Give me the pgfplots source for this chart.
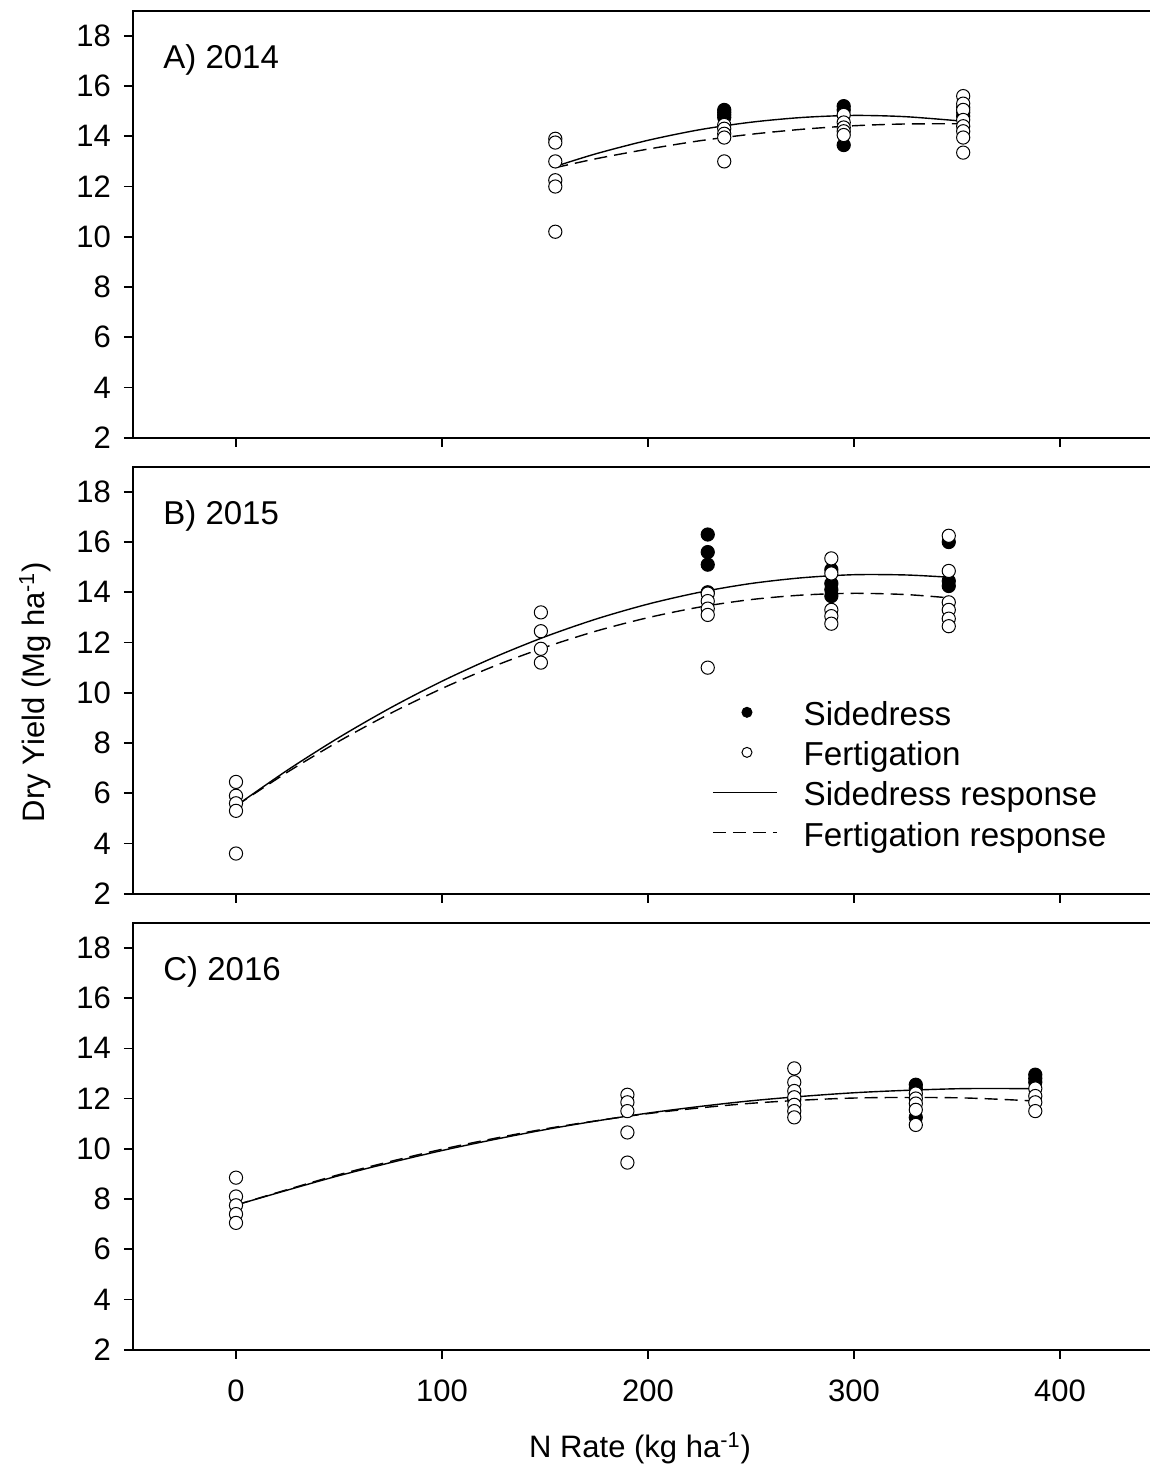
\documentclass[border=0pt]{standalone}
\usepackage{fontspec}
\setmainfont{Liberation Sans}
\usepackage{pgfplots}
\pgfplotsset{compat=1.18}
\tikzset{plabel/.style={anchor=base west, inner sep=0pt, xshift=15pt, yshift=-29pt, font=\fontsize{16.5}{19}\selectfont}}
\begin{document}
\begin{tikzpicture}
\useasboundingbox (0,0) rectangle (575pt,-735.5pt);
\pgfplotsset{
  panel/.style={
    scale only axis, width=515pt, height=213.5pt,
    xmin=-50, xmax=450, ymin=2, ymax=19,
    axis line style={line width=0.9pt},
    xtick={0,100,200,300,400},
    ytick={2,4,6,8,10,12,14,16,18},
    tick align=outside, tick pos=left,
    major tick length=4.5pt,
    tick style={line width=0.8pt, black},
    /pgf/number format/assume math mode=true,
    tick label style={font=\fontsize{15.5}{18}\selectfont},
    yticklabel style={xshift=-3pt},
    xticklabel style={yshift=-7pt},
    clip=false,
  },
  side/.style={only marks, mark=*, mark size=3.3pt,
    mark options={fill=black, draw=black, line width=0.5pt},
    legend image code/.code={\draw[mark repeat=2,mark phase=2,##1] plot coordinates {(0pt,1.5pt) (17pt,1.5pt) (34pt,1.5pt)};}},
  fert/.style={only marks, mark=*, mark size=3.3pt,
    mark options={fill=white, draw=black, line width=0.5pt},
    legend image code/.code={\draw[mark repeat=2,mark phase=2,##1] plot coordinates {(0pt,1.5pt) (17pt,1.5pt) (34pt,1.5pt)};}},
  sresp/.style={black, line width=0.7pt, smooth, no marks,
    legend image code/.code={\draw[##1] (0pt,1.5pt) -- (32pt,1.5pt);}},
  fresp/.style={black, line width=0.7pt, smooth, no marks, dash pattern=on 6.5pt off 3.5pt,
    legend image code/.code={\draw[##1] (0pt,1.5pt) -- (32pt,1.5pt);}},
}
% ---------------- Panel A: 2014
\begin{axis}[panel, at={(66.5pt,-5.35pt)}, anchor=north west, xticklabels={}]
\addplot[side] coordinates {(237,15.05) (237,14.95) (237,14.85) (237,14.75) (295,15.2) (295,15.05) (295,13.65) (353,15.15) (353,14.95) (353,14.8)};
\addplot[fert] coordinates {(155,13.9) (155,13.75) (155,13.0) (155,12.25) (155,12.0) (155,10.2)
 (237,14.45) (237,14.3) (237,14.1) (237,13.95) (237,13.0)
 (295,14.85) (295,14.55) (295,14.35) (295,14.2) (295,14.05)
 (353,15.6) (353,15.3) (353,15.05) (353,14.65) (353,14.4) (353,14.2) (353,13.95) (353,13.35)};
\addplot[sresp] coordinates {(155,12.8) (175,13.31) (200,13.84) (225,14.26) (250,14.56) (275,14.75) (300,14.83) (325,14.78) (353,14.6)};
\addplot[fresp] coordinates {(155,12.75) (175,13.11) (200,13.49) (225,13.82) (250,14.08) (275,14.28) (300,14.42) (325,14.49) (353,14.5)};
\node[plabel] at (rel axis cs:0,1) {A) 2014};
\end{axis}
% ---------------- Panel B: 2015
\begin{axis}[panel, at={(66.5pt,-233.35pt)}, anchor=north west, xticklabels={},
  legend style={at={(axis cs:231,6.71)}, anchor=west, draw=none, fill=none, inner sep=0pt,
    font=\fontsize{16.6}{19}\selectfont, row sep=6.5pt, column sep=13pt,
    nodes={inner sep=0pt}},
  legend cell align=left,
  legend image post style={mark size=2.5pt}]
\addplot[side] coordinates {(229,16.3) (229,15.6) (229,15.1) (229,14.0) (289,14.9) (289,14.35) (289,14.1) (289,13.85) (346,16.0) (346,14.45) (346,14.25)};
\addplot[fert] coordinates {(0,6.45) (0,5.9) (0,5.6) (0,5.3) (0,3.6)
 (148,13.2) (148,12.45) (148,11.75) (148,11.2)
 (229,13.95) (229,13.65) (229,13.35) (229,13.1) (229,11.0)
 (289,15.35) (289,14.75) (289,13.3) (289,13.05) (289,12.75)
 (346,16.25) (346,14.85) (346,13.6) (346,13.3) (346,12.95) (346,12.65)};
\addplot[sresp] coordinates {(0,5.5) (25,6.92) (50,8.22) (75,9.40) (100,10.46) (125,11.40) (150,12.23) (175,12.94) (200,13.53) (225,14.00) (250,14.35) (275,14.58) (300,14.70) (325,14.69) (346,14.6)};
\addplot[fresp] coordinates {(0,5.5) (25,6.84) (50,8.07) (75,9.18) (100,10.17) (125,11.05) (150,11.81) (175,12.46) (200,12.99) (225,13.41) (250,13.71) (275,13.89) (300,13.96) (325,13.91) (346,13.78)};
\legend{Sidedress, Fertigation, Sidedress response, Fertigation response}
\node[plabel] at (rel axis cs:0,1) {B) 2015};
\end{axis}
% ---------------- Panel C: 2016
\begin{axis}[panel, at={(66.5pt,-461.35pt)}, anchor=north west]
\addplot[side] coordinates {(271,11.95) (330,12.55) (330,12.4) (330,11.25) (388,12.95) (388,12.8) (388,12.65)};
\addplot[fert] coordinates {(0,8.85) (0,8.1) (0,7.75) (0,7.4) (0,7.05)
 (190,12.15) (190,11.85) (190,11.5) (190,10.65) (190,9.45)
 (271,13.2) (271,12.65) (271,12.3) (271,12.05) (271,11.75) (271,11.5) (271,11.25)
 (330,12.2) (330,12.0) (330,11.8) (330,11.55) (330,10.95)
 (388,12.4) (388,12.1) (388,11.85) (388,11.5)};
\addplot[sresp] coordinates {(0,7.76) (50,8.93) (100,9.93) (150,10.76) (200,11.42) (250,11.91) (300,12.23) (350,12.39) (388,12.39)};
\addplot[fresp] coordinates {(0,7.76) (50,8.97) (100,9.98) (150,10.79) (200,11.40) (250,11.81) (300,12.02) (350,12.03) (388,11.90)};
\node[plabel] at (rel axis cs:0,1) {C) 2016};
\end{axis}
\node[font=\fontsize{15.5}{18}\selectfont] at (320pt,-724pt) {N Rate (kg ha\textsuperscript{-1})};
\node[font=\fontsize{15.5}{18}\selectfont, rotate=90] at (17.5pt,-346pt) {Dry Yield (Mg ha\textsuperscript{-1})};
\end{tikzpicture}
\end{document}
